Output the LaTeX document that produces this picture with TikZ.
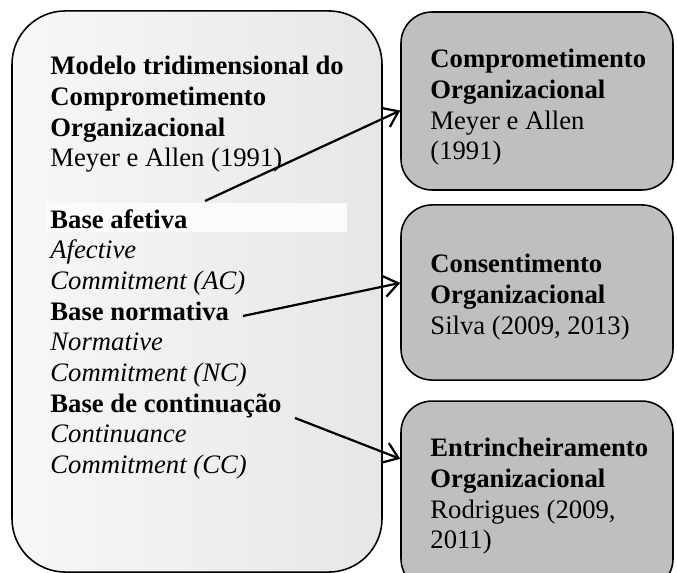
\documentclass[tikz,border=0pt]{standalone}
\usepackage{fontspec}
\setmainfont{Liberation Serif}
\usetikzlibrary{arrows.meta}
\tikzset{
  modelbox/.style={draw, line width=0.7pt, rounded corners=24pt,
    left color=gray!6, right color=gray!19, minimum width=166.5pt, minimum height=252.5pt},
  basebox/.style={draw, line width=0.7pt, rounded corners=14pt, fill=gray!50, minimum width=122.4pt},
  boxtext/.style={anchor=north west, inner sep=0pt, align=left, font=\fontsize{12}{13.8}\selectfont},
  link/.style={line width=1pt, -{Straight Barb[length=6.5pt,width=9.5pt]}}
}
\begin{document}
\begin{tikzpicture}[x=0.45pt,y=-0.45pt]
  \useasboundingbox (0,0) rectangle (677,573);
  \clip (0,0) rectangle (677,573);
  % caixas
  \node[modelbox] (modelo) at (197,291.5) {};
  \node[basebox, minimum height=80.1pt] (compr) at (537,101) {};
  \node[basebox, minimum height=78.8pt] (consent) at (537,292.5) {};
  \node[basebox, minimum height=85pt] (entrinch) at (537,495.5) {};
  \fill[gray!3] (46,203) rectangle (347,232);
  % textos
  \node[boxtext] (modelotxt) at (50,56) {\textbf{Modelo tridimensional do}\\
    \textbf{Comprometimento}\\ \textbf{Organizacional}\\ Meyer e Allen (1991)\\[13.8pt]
    \textbf{Base afetiva}\\ \textit{Afective}\\ \textit{Commitment (AC)}\\
    \textbf{Base normativa}\\ \textit{Normative}\\ \textit{Commitment (NC)}\\
    \textbf{Base de continuação}\\ \textit{Continuance}\\ \textit{Commitment (CC)}};
  \node[boxtext] (comprtxt) at (430,49) {\textbf{Comprometimento}\\
    \textbf{Organizacional}\\ Meyer e Allen\\ (1991)};
  \node[boxtext] (consenttxt) at (430,254) {\textbf{Consentimento}\\
    \textbf{Organizacional}\\ Silva (2009, 2013)};
  \node[boxtext] (entrinchtxt) at (430,438) {\textbf{Entrincheiramento}\\
    \textbf{Organizacional}\\ Rodrigues (2009,\\ 2011)};
  % setas
  \coordinate (afetiva) at (205,201);
  \coordinate (normativa) at (243,316);
  \coordinate (continuacao) at (295,418);
  \draw[link] (afetiva) -- (compr.184.6);
  \draw[link] (normativa) -- (consent.176.4);
  \draw[link] (continuacao) -- (entrinch.165.4);
\end{tikzpicture}
\end{document}
